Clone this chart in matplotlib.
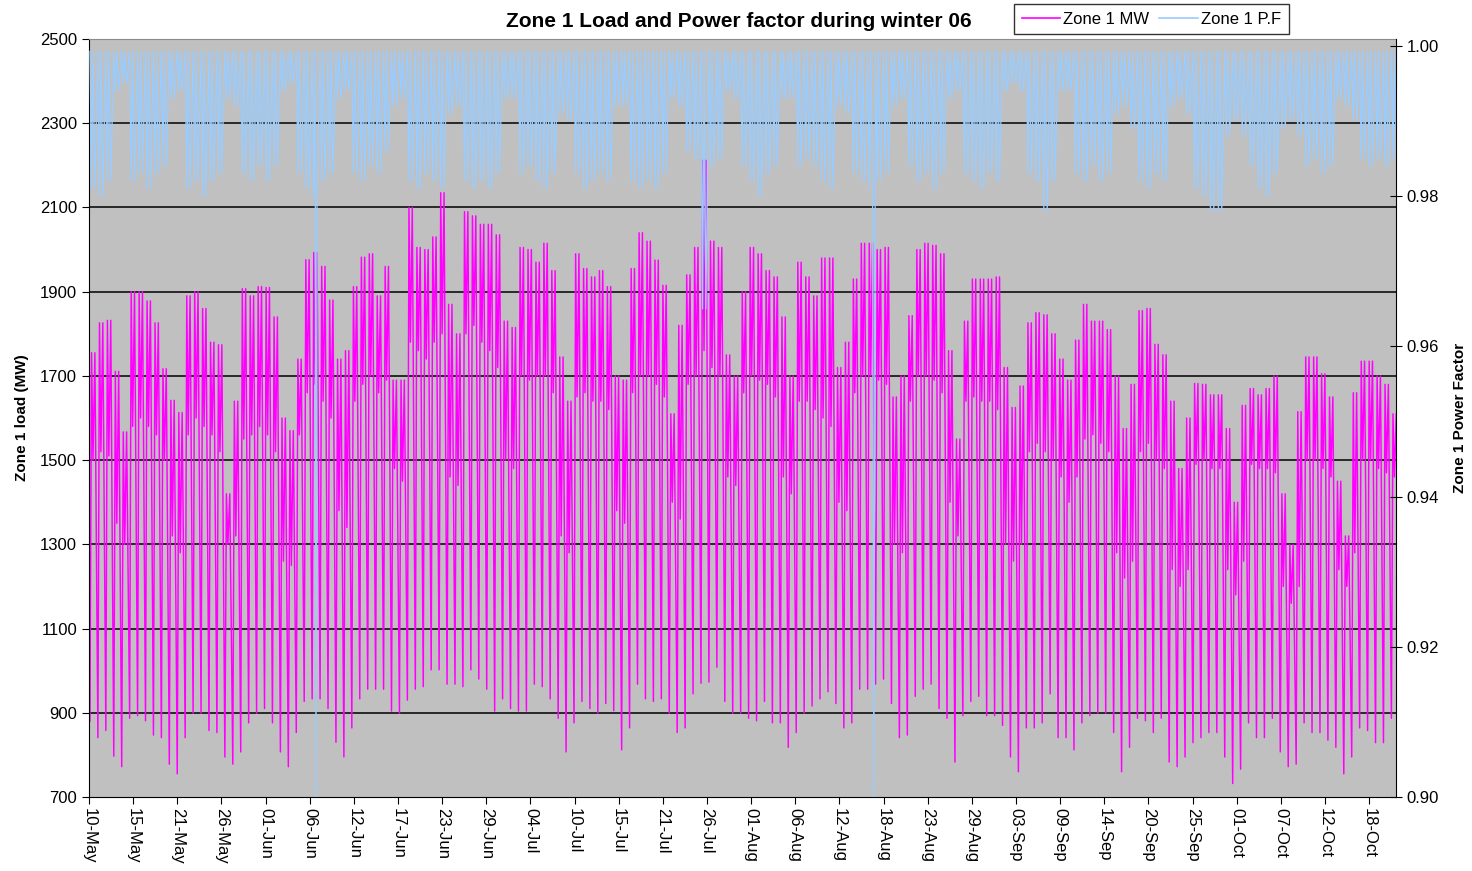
import matplotlib
matplotlib.use('Agg')

import numpy as np
import matplotlib.pyplot as plt

# daily values, one row per week (Wed .. Tue), starting 10-May
peak_mw = [
    1755, 1826, 1832, 1711, 1567, 1900, 1900,
    1878, 1826, 1717, 1642, 1613, 1890, 1900,
    1860, 1780, 1774, 1420, 1640, 1907, 1890,
    1912, 1910, 1840, 1600, 1570, 1740, 1976,
    1993, 1960, 1880, 1740, 1760, 1912, 1982,
    1990, 1890, 1960, 1690, 1690, 2100, 2005,
    2000, 2030, 2135, 1870, 1800, 2090, 2080,
    2060, 2060, 2035, 1830, 1815, 2005, 2000,
    1970, 2015, 1950, 1745, 1640, 1990, 1955,
    1935, 1950, 1912, 1700, 1690, 1955, 2040,
    2020, 1975, 1915, 1610, 1820, 1940, 2005,
    2212, 2020, 2005, 1750, 1700, 1900, 2005,
    1990, 1950, 1935, 1840, 1700, 1970, 1935,
    1890, 1980, 1980, 1720, 1780, 1930, 2015,
    2015, 2000, 2005, 1650, 1700, 1843, 2000,
    2015, 2010, 1990, 1760, 1550, 1830, 1930,
    1930, 1930, 1935, 1720, 1625, 1676, 1826,
    1850, 1845, 1800, 1740, 1690, 1785, 1870,
    1830, 1830, 1810, 1700, 1575, 1680, 1855,
    1860, 1775, 1750, 1640, 1480, 1600, 1682,
    1680, 1655, 1655, 1575, 1400, 1630, 1670,
    1655, 1670, 1700, 1420, 1300, 1615, 1745,
    1745, 1705, 1650, 1450, 1320, 1660, 1735,
    1735, 1700, 1680, 1610,
]

trough_mw = [
    880, 841, 858, 797, 772, 887, 893,
    881, 847, 841, 778, 755, 841, 899,
    899, 858, 853, 795, 778, 807, 876,
    899, 910, 876, 807, 772, 853, 927,
    933, 933, 910, 830, 795, 864, 933,
    956, 956, 956, 904, 899, 930, 956,
    962, 1002, 1002, 968, 968, 962, 1002,
    980, 956, 904, 933, 910, 904, 904,
    968, 962, 933, 887, 807, 876, 927,
    910, 899, 922, 905, 812, 864, 968,
    933, 927, 933, 899, 853, 864, 945,
    970, 973, 1008, 927, 899, 899, 887,
    881, 927, 876, 876, 818, 853, 899,
    916, 933, 950, 922, 864, 876, 956,
    956, 968, 980, 922, 841, 847, 939,
    956, 968, 910, 887, 783, 893, 927,
    939, 893, 893, 870, 795, 760, 864,
    864, 876, 945, 841, 841, 812, 876,
    893, 899, 899, 853, 760, 818, 887,
    881, 853, 887, 783, 772, 795, 829,
    841, 853, 853, 795, 732, 766, 876,
    841, 841, 887, 807, 772, 778, 876,
    853, 853, 835, 818, 755, 795, 864,
    858, 829, 829, 887,
]

midday_mw = [
    1500, 1520, 1510, 1350, 1300, 1580, 1600,
    1580, 1560, 1500, 1320, 1280, 1560, 1600,
    1580, 1560, 1520, 1300, 1320, 1550, 1560,
    1580, 1560, 1520, 1260, 1250, 1560, 1660,
    1680, 1640, 1600, 1380, 1340, 1640, 1680,
    1700, 1660, 1690, 1480, 1450, 1780, 1760,
    1740, 1780, 1800, 1460, 1440, 1800, 1820,
    1780, 1760, 1720, 1500, 1480, 1700, 1690,
    1700, 1700, 1660, 1320, 1280, 1650, 1660,
    1640, 1640, 1620, 1380, 1350, 1660, 1700,
    1700, 1680, 1650, 1400, 1360, 1680, 1700,
    1760, 1720, 1700, 1460, 1440, 1660, 1700,
    1690, 1680, 1650, 1460, 1420, 1640, 1640,
    1620, 1600, 1580, 1400, 1380, 1660, 1700,
    1700, 1690, 1680, 1300, 1280, 1640, 1700,
    1700, 1690, 1660, 1400, 1320, 1640, 1650,
    1640, 1640, 1620, 1300, 1260, 1300, 1520,
    1540, 1520, 1500, 1460, 1400, 1460, 1550,
    1560, 1540, 1520, 1280, 1220, 1260, 1520,
    1540, 1500, 1480, 1240, 1200, 1240, 1490,
    1500, 1480, 1480, 1240, 1180, 1260, 1490,
    1480, 1480, 1470, 1200, 1160, 1200, 1500,
    1500, 1480, 1460, 1240, 1200, 1280, 1500,
    1500, 1480, 1470, 1460,
]

pf_low = [
    .981, .980, .982, .994, .995, .982, .983,
    .981, .983, .984, .993, .994, .981, .982,
    .980, .982, .983, .993, .992, .983, .982,
    .984, .982, .984, .994, .995, .983, .981,
    .980, .982, .983, .993, .994, .983, .982,
    .984, .983, .986, .992, .993, .982, .981,
    .983, .982, .981, .991, .992, .982, .981,
    .982, .981, .983, .993, .993, .983, .984,
    .982, .981, .983, .991, .990, .983, .981,
    .982, .983, .982, .992, .992, .982, .981,
    .982, .981, .983, .993, .992, .986, .985,
    .965, .984, .985, .994, .993, .984, .982,
    .980, .983, .984, .993, .993, .984, .985,
    .984, .982, .981, .992, .991, .983, .982,
    .981, .982, .983, .992, .993, .984, .982,
    .983, .981, .983, .993, .994, .983, .982,
    .981, .983, .982, .994, .995, .994, .983,
    .982, .978, .982, .994, .994, .983, .982,
    .984, .982, .983, .991, .992, .989, .982,
    .981, .983, .982, .992, .993, .991, .981,
    .980, .978, .978, .988, .990, .988, .984,
    .981, .980, .983, .989, .990, .988, .984,
    .985, .983, .984, .993, .992, .990, .985,
    .984, .985, .984, .985,
]
PF_TOP = 0.9993

# two single readings where the P.F drops to the bottom of the axis
pf_spike_day = [28.6, 98.9]
pf_spike_val = [0.900, 0.900]

TICK_LABELS = ['10-May', '15-May', '21-May', '26-May', '01-Jun', '06-Jun', '12-Jun',
               '17-Jun', '23-Jun', '29-Jun', '04-Jul', '10-Jul', '15-Jul', '21-Jul',
               '26-Jul', '01-Aug', '06-Aug', '12-Aug', '18-Aug', '23-Aug', '29-Aug',
               '03-Sep', '09-Sep', '14-Sep', '20-Sep', '25-Sep', '01-Oct', '07-Oct',
               '12-Oct', '18-Oct']
TICK_STEP = 267 / 48.0   # excel category tick every 267 half-hour readings
X_END = 164.7

# build the plotted series, 4 readings per day
mw_x, mw_y, pf_x, pf_y = [], [], [], []
for d in range(len(peak_mw)):
    for frac, v in zip((0.12, 0.32, 0.5, 0.74),
                       (trough_mw[d], peak_mw[d], midday_mw[d], peak_mw[d])):
        mw_x.append(d + frac)
        mw_y.append(v)
    for frac, v in zip((0.12, 0.32, 0.5, 0.74), (PF_TOP, pf_low[d], PF_TOP, pf_low[d])):
        pf_x.append(d + frac)
        pf_y.append(v)
pf_x += pf_spike_day
pf_y += pf_spike_val
order = np.argsort(pf_x)
pf_x = np.array(pf_x)[order]
pf_y = np.array(pf_y)[order]

plt.rcParams['font.family'] = ['Liberation Sans', 'DejaVu Sans']

fig = plt.figure(figsize=(14.72, 8.71), dpi=100)
ax = fig.add_axes([89 / 1472, 1 - 797 / 871, (1396 - 89) / 1472, (797 - 39) / 871])
ax.set_facecolor('#C0C0C0')

for g in range(900, 2500, 200):
    ax.axhline(g, color='black', lw=1.1, zorder=1)

l1, = ax.plot(mw_x, mw_y, color='#FF00FF', lw=1.05, zorder=2, label='Zone 1 MW')
ax.set_xlim(0, X_END)
ax.set_ylim(700, 2500)
ax.set_yticks(range(700, 2501, 200))
ax.set_xticks([k * TICK_STEP for k in range(len(TICK_LABELS))])
ax.set_xticklabels(TICK_LABELS, rotation=270, fontsize=12)
ax.tick_params(axis='y', labelsize=12, direction='out', length=5)
ax.tick_params(axis='x', direction='out', length=5, pad=3)
ax.set_ylabel('Zone 1 load (MW)', fontsize=11, fontweight='bold', labelpad=8)
ax.spines['top'].set_color('#8C8C8C')
ax.spines['right'].set_visible(False)

ax2 = ax.twinx()
l2, = ax2.plot(pf_x, pf_y, color='#99CCFF', lw=0.9, label='Zone 1 P.F')
ax2.set_ylim(0.90, 1.0 + 7 / 7500)
ax2.set_yticks(np.arange(0.90, 1.001, 0.02))
ax2.set_yticklabels(['%.2f' % t for t in np.arange(0.90, 1.001, 0.02)])
ax2.tick_params(axis='y', labelsize=12, direction='inout', length=8)
ax2.set_ylabel('Zone 1 Power Factor', fontsize=11, fontweight='bold', labelpad=10)
ax2.spines['top'].set_visible(False)
ax2.spines['left'].set_visible(False)
ax2.spines['bottom'].set_visible(False)

fig.text(0.502, 0.975, 'Zone 1 Load and Power factor during winter 06',
         ha='center', va='center', fontsize=15, fontweight='bold')

leg = fig.legend(handles=[l1, l2], loc='upper left', ncol=2, fontsize=12,
                 bbox_to_anchor=(1014 / 1472, 1 - 4 / 871), frameon=True,
                 fancybox=False, handlelength=2.3, handletextpad=0.2,
                 columnspacing=0.6, borderpad=0.45, borderaxespad=0)
leg.get_frame().set_edgecolor('black')
leg.get_frame().set_linewidth(1.0)
for h in leg.get_lines():
    h.set_linewidth(1.2)

plt.savefig('out.png', dpi=100, facecolor='white')
plt.close()
